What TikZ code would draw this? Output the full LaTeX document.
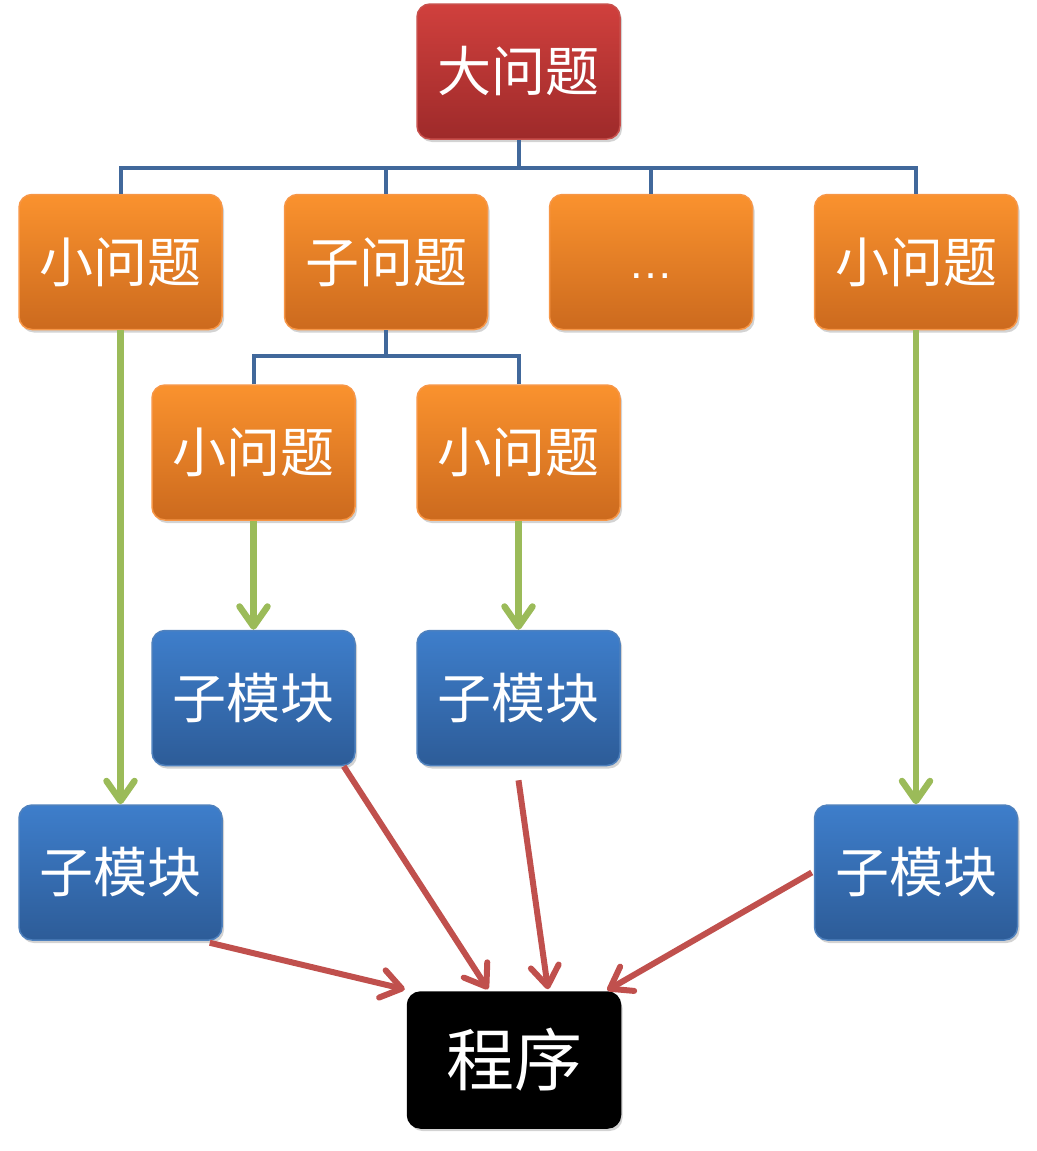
\documentclass[tikz,border=0pt]{standalone}
\usepackage{fontspec}
\newfontfamily\cjk{Noto Sans CJK SC}
\newfontfamily\latinf{Liberation Sans}
\usetikzlibrary{arrows.meta,shadows,calc}
\definecolor{redT}{HTML}{D0403D}
\definecolor{redB}{HTML}{9E2A2A}
\definecolor{redE}{HTML}{C8504C}
\definecolor{orT}{HTML}{FA922E}
\definecolor{orB}{HTML}{CC6A1E}
\definecolor{orE}{HTML}{F79646}
\definecolor{blT}{HTML}{3E7ECB}
\definecolor{blB}{HTML}{2D5C98}
\definecolor{blE}{HTML}{4F81BD}
\definecolor{treeC}{HTML}{41689B}
\definecolor{grnC}{HTML}{9BBB59}
\definecolor{arrC}{HTML}{C0504D}
\tikzset{
  box/.style={rounded corners=13pt, minimum width=203pt, minimum height=135pt,
    text=white, inner sep=0pt, line width=1.5pt,
    font=\cjk\fontsize{54}{60}\selectfont,
    drop shadow={shadow xshift=2pt, shadow yshift=-3pt, opacity=.35}},
  redbox/.style={box, draw=redE, top color=redT, bottom color=redB},
  orbox/.style={box, draw=orE, top color=orT, bottom color=orB},
  blbox/.style={box, draw=blE, top color=blT, bottom color=blB},
  progbox/.style={box, draw=black, fill=black, minimum width=213pt, minimum height=136pt,
    font=\cjk\fontsize{68}{74}\selectfont},
  tree/.style={draw=treeC, line width=4pt},
  garrow/.style={draw=grnC, line width=6.5pt,
    -{Straight Barb[length=20pt,width=28pt,line width=6.5pt,line cap=round,line join=round]}},
  rarrow/.style={draw=arrC, line width=6pt,
    -{Straight Barb[length=20pt,width=28pt,line width=6pt,line cap=round,line join=round]}},
}
\begin{document}
\begin{tikzpicture}[x=1pt,y=-1pt]
\useasboundingbox (0,0) rectangle (1036,1151);
% nodes
\node[redbox] (top) at (518.5,71.5) {大问题};
\node[orbox] (a1) at (120.5,262) {小问题};
\node[orbox] (a2) at (386,262) {子问题};
\node[orbox] (a3) at (651,262) {\smash{\raisebox{-16.5pt}{\latinf\fontsize{45}{45}\selectfont …}}};
\node[orbox] (a4) at (916,262) {小问题};
\node[orbox] (b1) at (253.5,452.5) {小问题};
\node[orbox] (b2) at (518.5,452.5) {小问题};
\node[blbox] (c1) at (253.5,698) {子模块};
\node[blbox] (c2) at (518.5,698) {子模块};
\node[blbox] (d1) at (120.5,872.5) {子模块};
\node[blbox] (d2) at (916,872.5) {子模块};
\node[progbox] (prog) at (514,1060) {程序};
% tree connectors
\coordinate (j0) at ($(top.south)+(0,28)$);
\draw[tree] (top.south) -- (j0);
\draw[tree] (a1.north) |- (j0) -| (a4.north);
\draw[tree] (a2.north) -- (a2.north |- j0);
\draw[tree] (a3.north) -- (a3.north |- j0);
\coordinate (j1) at ($(a2.south)+(0,26)$);
\draw[tree] (a2.south) -- (j1);
\draw[tree] (b1.north) |- (j1) -| (b2.north);
% green arrows
\draw[garrow] (a1.south) -- (d1.north);
\draw[garrow] (b1.south) -- (c1.north);
\draw[garrow] (b2.south) -- (c2.north);
\draw[garrow] (a4.south) -- (d2.north);
% red arrows
\draw[rarrow] ($(d1.south east)+(-13,2)$) -- ($(prog.north west)+(-2,-2)$);
\draw[rarrow] ($(c1.south east)+(-12,0)$) -- ($(prog.north)+(-26,-2)$);
\draw[rarrow] ($(c2.south)+(0,14)$) -- ($(prog.north)+(34,-2)$);
\draw[rarrow] ($(d2.west)+(-2,0)$) -- ($(prog.north east)+(-14,-1)$);
\end{tikzpicture}
\end{document}
